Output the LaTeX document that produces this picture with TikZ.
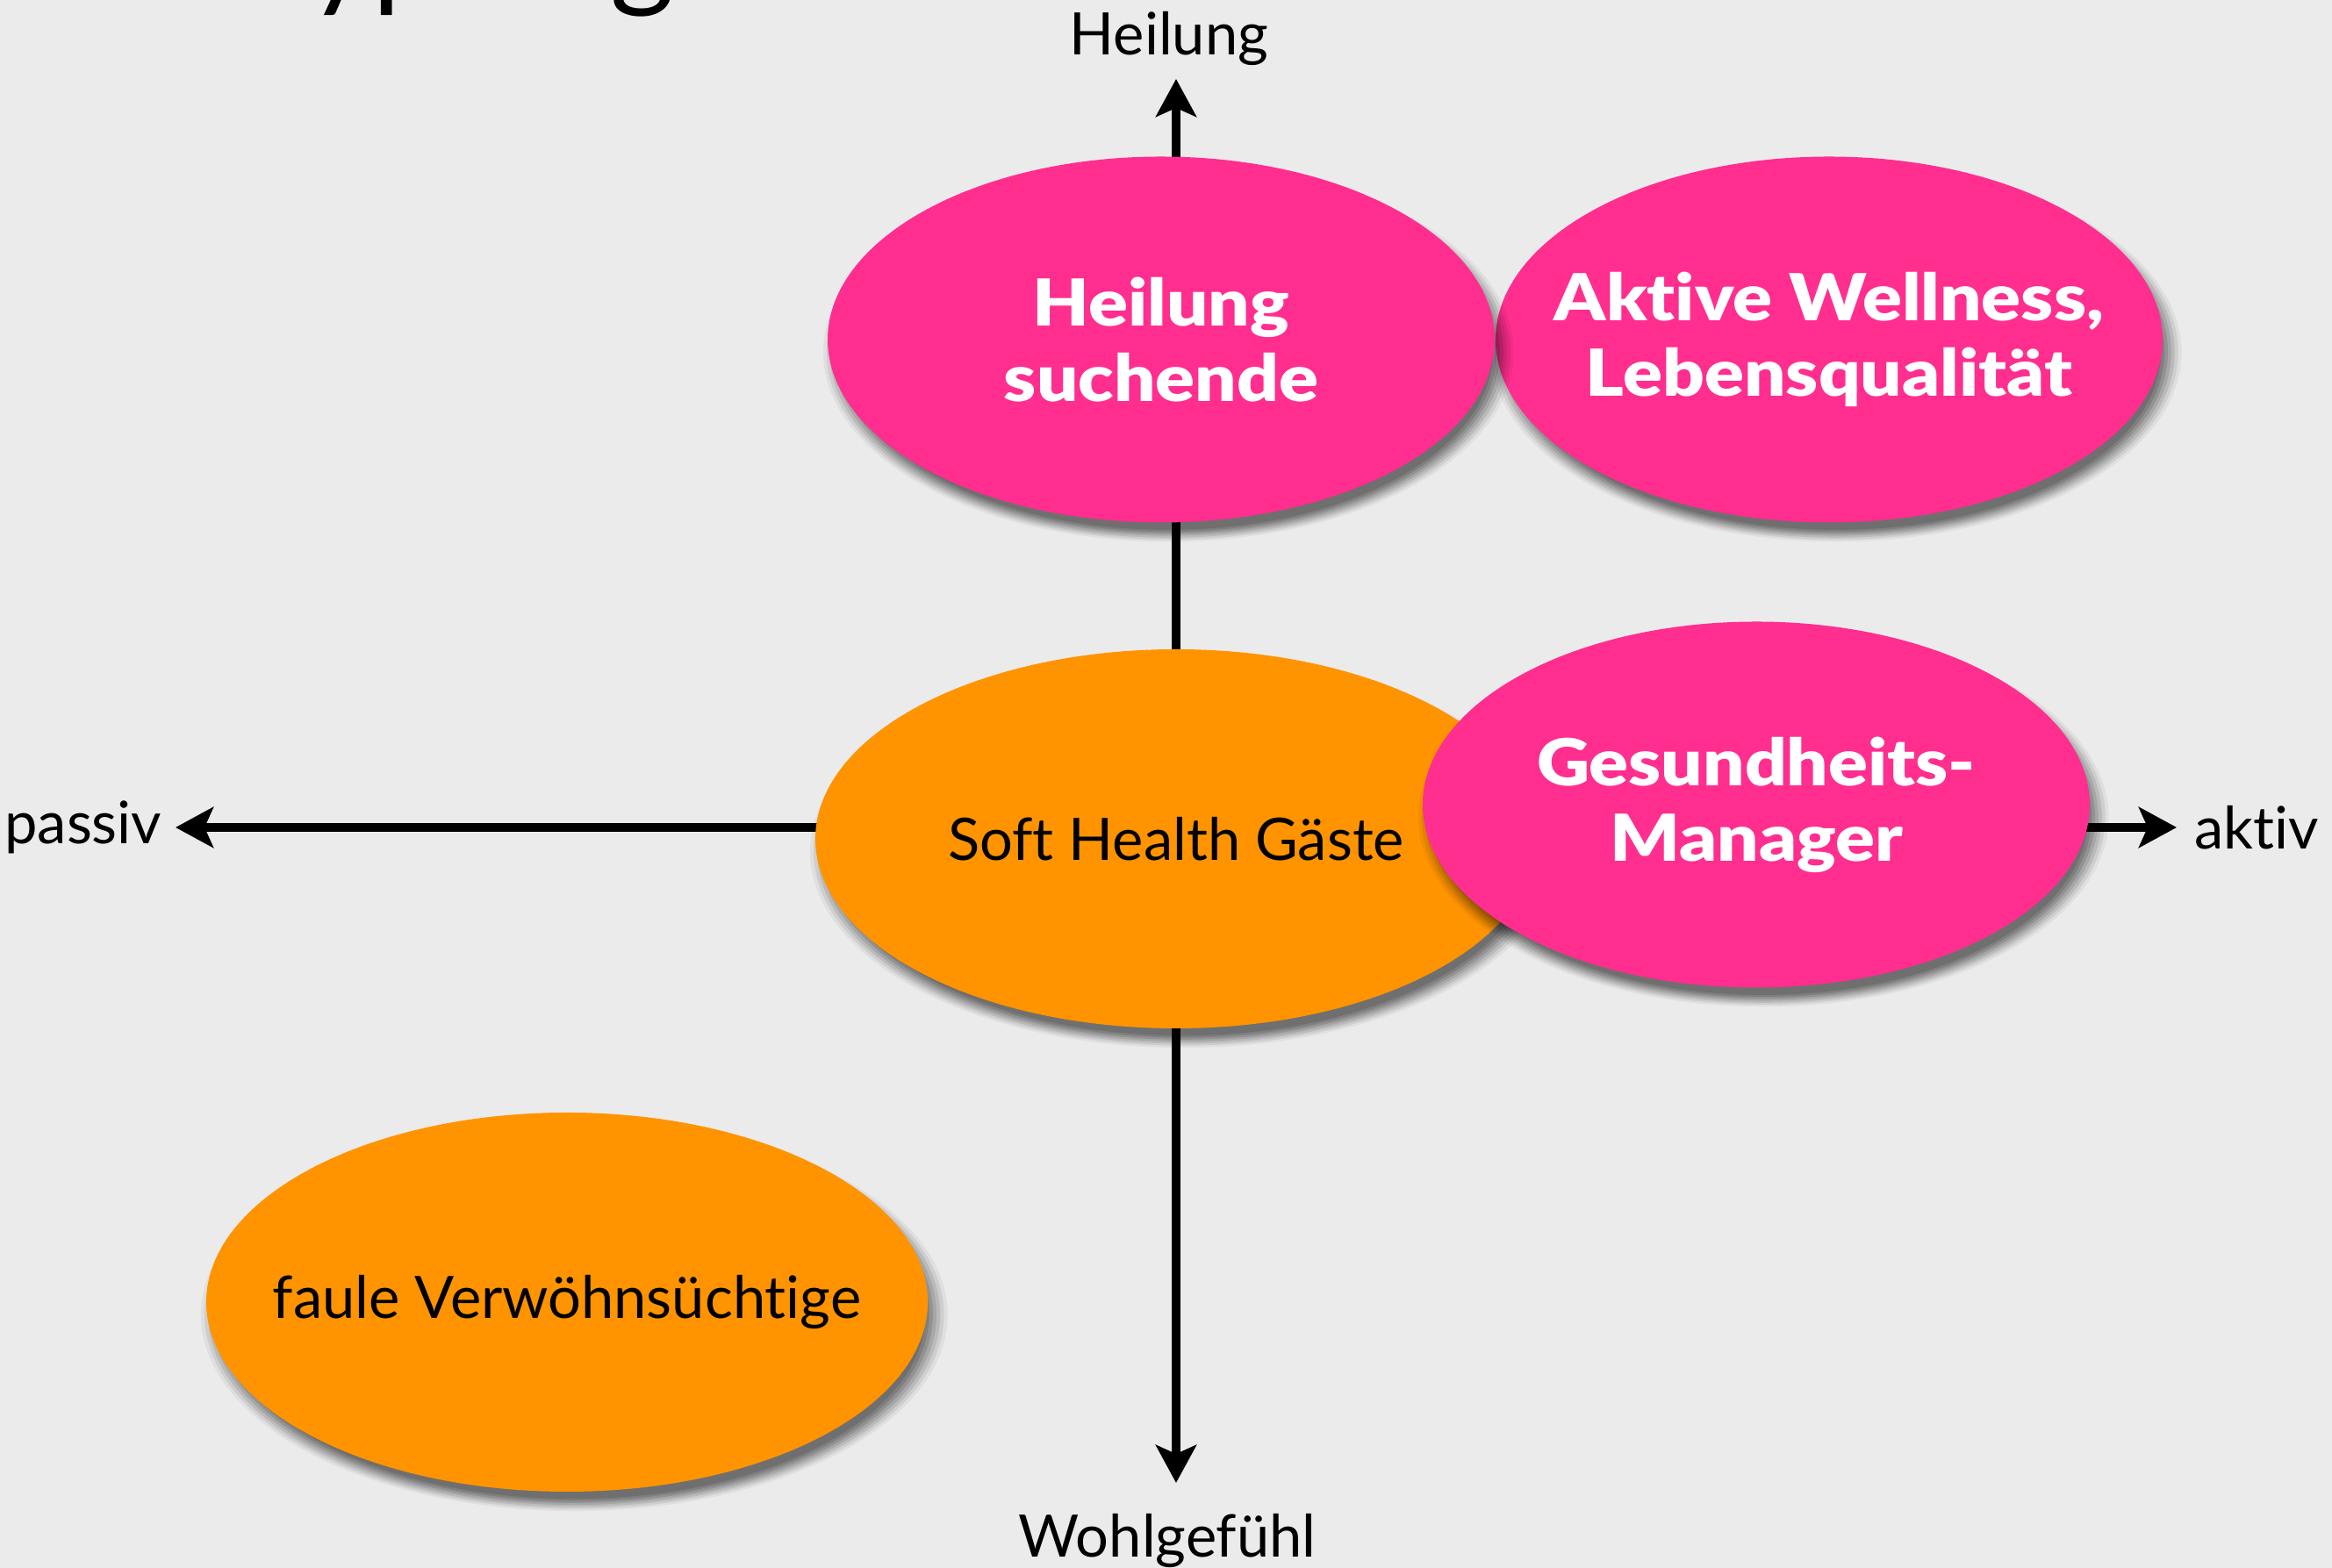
\documentclass[tikz,border=0pt]{standalone}
\usepackage{fontspec}
\setmainfont{Lato}[Ligatures=NoCommon]
\newfontfamily\heavyfont{Lato Black}[Ligatures=NoCommon, FakeStretch=1.13]
\usetikzlibrary{arrows.meta,positioning,shapes.geometric,shadows}
\definecolor{paper}{RGB}{235,235,235}
\definecolor{hotpink}{RGB}{255,46,143}
\definecolor{amber}{RGB}{255,148,0}
\tikzset{
  softshadow/.style={
    general shadow={shadow scale=0.975, shadow xshift=0.08cm, shadow yshift=-0.14cm, fill=black, opacity=0.12},
    general shadow={shadow scale=0.985, shadow xshift=0.08cm, shadow yshift=-0.14cm, fill=black, opacity=0.12},
    general shadow={shadow scale=0.995, shadow xshift=0.08cm, shadow yshift=-0.14cm, fill=black, opacity=0.12},
    general shadow={shadow scale=1.005, shadow xshift=0.08cm, shadow yshift=-0.14cm, fill=black, opacity=0.11},
    general shadow={shadow scale=1.015, shadow xshift=0.08cm, shadow yshift=-0.14cm, fill=black, opacity=0.09},
    general shadow={shadow scale=1.025, shadow xshift=0.08cm, shadow yshift=-0.14cm, fill=black, opacity=0.07},
    general shadow={shadow scale=1.035, shadow xshift=0.08cm, shadow yshift=-0.14cm, fill=black, opacity=0.05}},
  blob/.style={ellipse, inner sep=0pt, softshadow},
  pinkblob/.style={blob, fill=hotpink, minimum width=7.6cm, minimum height=4.17cm},
  orangeblob/.style={blob, fill=amber, minimum width=8.22cm, minimum height=4.32cm},
  heavy/.style={text=white, align=center, inner sep=0pt, font=\heavyfont\fontsize{21}{24.5}\selectfont},
  plain/.style={text=black, inner sep=0pt, font=\fontsize{19}{23}\selectfont},
  axis/.style={line width=2.85pt,
    {Stealth[length=4.3mm, width=4.6mm, inset=1mm]}-{Stealth[length=4.3mm, width=4.6mm, inset=1mm]}},
}
\begin{document}
\begin{tikzpicture}
		%%%%% START %%%%%
		
		\fill[paper] (0, 0) rectangle (26.57, 17.87);
		\useasboundingbox (0, 0) rectangle (26.57, 17.87);
		
		% title, cut off by the top edge
		\begin{scope}
			\clip (0, 0) rectangle (26.57, 17.87);
			\node[anchor=base west, inner sep=0pt, font=\fontsize{40}{48}\selectfont] (title) at (2.80, 17.93) {Typologie};
		\end{scope}
		
		% axes
		\coordinate (axTop) at (13.40, 16.97);
		\coordinate (axBottom) at (13.40, 0.97);
		\coordinate (axLeft) at (2.00, 8.44);
		\coordinate (axRight) at (24.80, 8.44);
		\draw[axis] (axBottom) -- (axTop);
		\draw[axis] (axLeft) -- (axRight);
		
		\node[plain, above=1.5mm of axTop, xshift=-0.08cm] (heilungLbl) {Heilung};
		\node[plain, below=3.5mm of axBottom, xshift=-0.1cm] (wohlLbl) {Wohlgefühl};
		\node[plain, left=1.5mm of axLeft] (passivLbl) {passiv};
		\node[plain, right=2mm of axRight] (aktivLbl) {aktiv};
		
		% groups
		\node[pinkblob, label={[heavy]center:Aktive Wellness,\\Lebensqualität}] (wellness) at (20.84, 14.00) {};
		\node[pinkblob, label={[heavy]center:Heilung\\suchende}] (heilung) at (13.23, 14.00) {};
		
		\node[orangeblob, label={[plain]center:Soft Health Gäste}] (soft) at (13.40, 8.31) {};
		\node[pinkblob, label={[heavy]center:Gesundheits-\\Manager}] (manager) at (20.01, 8.70) {};
		
		\node[orangeblob, label={[plain]center:faule Verwöhnsüchtige}] (faule) at (6.46, 3.03) {};
		
		%%%%% END %%%%%
\end{tikzpicture}
\end{document}
